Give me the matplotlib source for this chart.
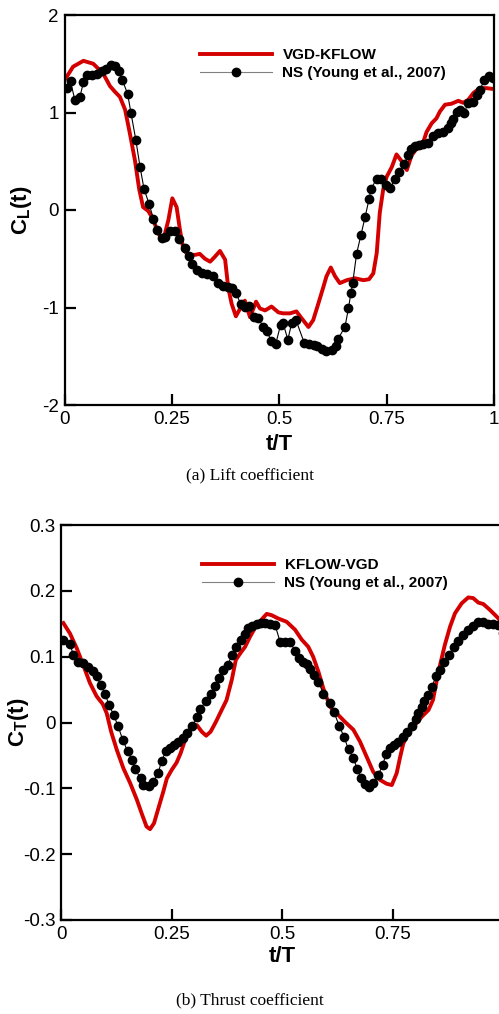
import matplotlib
matplotlib.use("Agg")
import matplotlib.pyplot as plt

plt.rcParams['font.family'] = ['Liberation Sans', 'DejaVu Sans']
plt.rcParams['mathtext.fontset'] = 'custom'
plt.rcParams['mathtext.rm'] = 'Liberation Sans'
plt.rcParams['mathtext.bf'] = 'Liberation Sans:bold'
plt.rcParams['mathtext.it'] = 'Liberation Sans:italic'

# ---------------- Lift coefficient data ----------------
lift_vgd_t = [0.0, 0.02, 0.044, 0.067, 0.09, 0.106, 0.118, 0.129, 0.141, 0.152, 0.164, 0.174,
              0.183, 0.195, 0.207, 0.218, 0.23, 0.242, 0.251, 0.261, 0.269, 0.277, 0.288, 0.304,
              0.315, 0.327, 0.339, 0.35, 0.362, 0.374, 0.381, 0.389, 0.399, 0.409, 0.42, 0.432,
              0.446, 0.455, 0.467, 0.482, 0.498, 0.509, 0.525, 0.54, 0.552, 0.568, 0.579, 0.591,
              0.602, 0.61, 0.62, 0.63, 0.641, 0.657, 0.676, 0.696, 0.709, 0.719, 0.727, 0.734,
              0.742, 0.75, 0.762, 0.773, 0.785, 0.797, 0.808, 0.82, 0.831, 0.843, 0.855, 0.866,
              0.874, 0.886, 0.901, 0.917, 0.928, 0.94, 0.952, 0.967, 0.983, 1.0]
lift_vgd_v = [1.33, 1.47, 1.53, 1.50, 1.40, 1.27, 1.21, 1.16, 1.03, 0.79, 0.51, 0.21,
              0.03, -0.01, -0.10, -0.24, -0.31, -0.10, 0.12, 0.03, -0.21, -0.41, -0.46, -0.46,
              -0.45, -0.50, -0.53, -0.48, -0.42, -0.51, -0.79, -0.96, -1.09, -1.01, -0.93, -1.10,
              -0.94, -1.01, -1.03, -0.99, -1.05, -1.06, -1.06, -1.04, -1.11, -1.20, -1.13, -0.96,
              -0.80, -0.68, -0.59, -0.68, -0.75, -0.72, -0.70, -0.72, -0.71, -0.65, -0.44, -0.03,
              0.21, 0.34, 0.44, 0.57, 0.50, 0.41, 0.56, 0.63, 0.64, 0.80, 0.89, 0.94,
              1.01, 1.08, 1.09, 1.12, 1.10, 1.13, 1.20, 1.25, 1.25, 1.24]

lift_ns_t = [0.005, 0.014, 0.024, 0.036, 0.044, 0.053, 0.063, 0.075, 0.087, 0.097, 0.108, 0.118,
             0.126, 0.135, 0.147, 0.155, 0.166, 0.176, 0.185, 0.197, 0.207, 0.216, 0.226, 0.235,
             0.246, 0.257, 0.267, 0.28, 0.29, 0.297, 0.308, 0.319, 0.331, 0.346, 0.358, 0.369,
             0.38, 0.391, 0.399, 0.41, 0.42, 0.43, 0.441, 0.451, 0.463, 0.471, 0.481, 0.492,
             0.503, 0.509, 0.52, 0.529, 0.539, 0.558, 0.57, 0.581, 0.589, 0.599, 0.609, 0.622,
             0.631, 0.637, 0.653, 0.661, 0.667, 0.671, 0.68, 0.69, 0.70, 0.709, 0.714, 0.727,
             0.738, 0.748, 0.759, 0.769, 0.779, 0.791, 0.799, 0.807, 0.816, 0.826, 0.835, 0.847,
             0.858, 0.87, 0.882, 0.892, 0.90, 0.905, 0.913, 0.921, 0.93, 0.94, 0.95, 0.96,
             0.967, 0.977, 0.989, 0.997]
lift_ns_v = [1.25, 1.32, 1.13, 1.16, 1.31, 1.38, 1.38, 1.40, 1.43, 1.45, 1.49, 1.48,
             1.43, 1.33, 1.19, 0.99, 0.72, 0.44, 0.22, 0.06, -0.09, -0.21, -0.29, -0.28,
             -0.22, -0.22, -0.30, -0.39, -0.47, -0.55, -0.62, -0.65, -0.66, -0.68, -0.75, -0.78,
             -0.79, -0.80, -0.85, -0.96, -0.99, -0.98, -1.10, -1.11, -1.20, -1.24, -1.34, -1.37,
             -1.18, -1.16, -1.33, -1.16, -1.13, -1.36, -1.37, -1.38, -1.39, -1.43, -1.45, -1.44,
             -1.40, -1.32, -1.20, -1.01, -0.85, -0.75, -0.45, -0.26, -0.07, 0.11, 0.22, 0.32,
             0.32, 0.26, 0.23, 0.32, 0.39, 0.47, 0.56, 0.63, 0.66, 0.67, 0.68, 0.69,
             0.76, 0.79, 0.80, 0.84, 0.89, 0.93, 1.01, 1.03, 0.99, 1.10, 1.11, 1.18,
             1.23, 1.33, 1.37, 1.35]

# ---------------- Thrust coefficient data ----------------
thrust_vgd_t = [0.005, 0.02, 0.035, 0.05, 0.065, 0.08, 0.094, 0.103, 0.113, 0.126, 0.141, 0.156,
                0.171, 0.182, 0.193, 0.201, 0.21, 0.22, 0.231, 0.239, 0.25, 0.261, 0.27, 0.28,
                0.291, 0.307, 0.318, 0.328, 0.338, 0.35, 0.363, 0.374, 0.386, 0.395, 0.405, 0.416,
                0.427, 0.442, 0.465, 0.476, 0.491, 0.51, 0.529, 0.544, 0.559, 0.57, 0.582, 0.593,
                0.608, 0.623, 0.642, 0.661, 0.676, 0.691, 0.706, 0.721, 0.736, 0.748, 0.759, 0.767,
                0.774, 0.785, 0.80, 0.816, 0.831, 0.841, 0.85, 0.857, 0.868, 0.88, 0.891, 0.906,
                0.921, 0.932, 0.944, 0.955, 0.97, 0.985, 1.0]
thrust_vgd_v = [0.151, 0.135, 0.113, 0.087, 0.060, 0.040, 0.028, 0.014, -0.014, -0.042, -0.070, -0.092,
                -0.117, -0.138, -0.158, -0.162, -0.153, -0.130, -0.105, -0.085, -0.072, -0.061, -0.047, -0.027,
                -0.012, -0.004, -0.014, -0.020, -0.014, 0.001, 0.019, 0.034, 0.065, 0.095, 0.105, 0.115,
                0.130, 0.148, 0.165, 0.163, 0.158, 0.153, 0.141, 0.126, 0.115, 0.100, 0.077, 0.052,
                0.024, 0.014, 0.001, -0.011, -0.029, -0.052, -0.075, -0.087, -0.093, -0.095, -0.077, -0.052,
                -0.032, -0.016, -0.004, 0.009, 0.019, 0.034, 0.065, 0.087, 0.118, 0.146, 0.166, 0.181,
                0.190, 0.189, 0.182, 0.180, 0.171, 0.161, 0.150]

thrust_ns_t = [0.005, 0.02, 0.027, 0.039, 0.05, 0.061, 0.071, 0.08, 0.089, 0.099, 0.108, 0.119,
               0.129, 0.139, 0.15, 0.16, 0.167, 0.18, 0.184, 0.199, 0.208, 0.22, 0.227, 0.237,
               0.246, 0.255, 0.265, 0.275, 0.284, 0.297, 0.307, 0.314, 0.327, 0.338, 0.348, 0.357,
               0.365, 0.377, 0.387, 0.395, 0.406, 0.416, 0.423, 0.432, 0.442, 0.452, 0.462, 0.472,
               0.484, 0.495, 0.506, 0.518, 0.529, 0.539, 0.548, 0.557, 0.563, 0.572, 0.582, 0.593,
               0.608, 0.617, 0.629, 0.64, 0.65, 0.661, 0.67, 0.678, 0.687, 0.697, 0.706, 0.717,
               0.727, 0.735, 0.744, 0.754, 0.763, 0.773, 0.782, 0.793, 0.802, 0.808, 0.816, 0.821,
               0.829, 0.838, 0.848, 0.857, 0.867, 0.877, 0.889, 0.898, 0.91, 0.92, 0.931, 0.942,
               0.955, 0.966, 0.976, 0.989, 1.0]
thrust_ns_v = [0.125, 0.120, 0.103, 0.092, 0.091, 0.085, 0.078, 0.070, 0.057, 0.044, 0.027, 0.011,
               -0.006, -0.026, -0.043, -0.057, -0.071, -0.085, -0.095, -0.096, -0.090, -0.076, -0.058, -0.044,
               -0.039, -0.034, -0.029, -0.024, -0.016, -0.005, 0.008, 0.020, 0.032, 0.044, 0.055, 0.067,
               0.079, 0.088, 0.103, 0.114, 0.126, 0.135, 0.143, 0.147, 0.150, 0.151, 0.151, 0.150,
               0.148, 0.123, 0.123, 0.123, 0.108, 0.098, 0.092, 0.089, 0.081, 0.072, 0.062, 0.044,
               0.030, 0.016, -0.005, -0.022, -0.041, -0.054, -0.071, -0.084, -0.093, -0.098, -0.092, -0.080,
               -0.065, -0.048, -0.039, -0.034, -0.029, -0.022, -0.015, -0.005, 0.005, 0.014, 0.024, 0.033,
               0.042, 0.054, 0.070, 0.080, 0.092, 0.103, 0.115, 0.124, 0.133, 0.141, 0.147, 0.152,
               0.152, 0.150, 0.150, 0.148, 0.136]

x_ticks = [0, 0.25, 0.5, 0.75, 1]
x_ticklabels = ["0", "0.25", "0.5", "0.75", "1"]
lift_yticks = [-2, -1, 0, 1, 2]
lift_yticklabels = ["-2", "-1", "0", "1", "2"]
thrust_yticks = [-0.3, -0.2, -0.1, 0, 0.1, 0.2, 0.3]
thrust_yticklabels = ["-0.3", "-0.2", "-0.1", "0", "0.1", "0.2", "0.3"]

RED = '#d40000'
W, H = 499, 1014
fig = plt.figure(figsize=(W / 100, H / 100), dpi=100)


def style_axes(ax):
    for s in ax.spines.values():
        s.set_linewidth(1.6)
    ax.tick_params(direction='in', length=8, width=1.6, labelsize=13.5, pad=4,
                   top=False, right=False)
    ax.set_xlabel('t/T', fontsize=16, fontweight='bold')


def add_legend(ax, x_px, y_px):
    leg = ax.legend(loc='upper left', bbox_to_anchor=(x_px / W, 1 - y_px / H),
                    bbox_transform=fig.transFigure, frameon=False,
                    prop={'weight': 'bold', 'size': 11}, handlelength=4.7,
                    handletextpad=0.7, labelspacing=0.28, borderpad=0,
                    borderaxespad=0)
    leg.get_lines()[1].set_color('#808080')
    return leg


ax1 = fig.add_axes([64.5 / W, 1 - 405 / H, 429.5 / W, 390 / H])
ax1.plot(lift_vgd_t, lift_vgd_v, color=RED, lw=2.8, label='VGD-KFLOW', zorder=2)
ax1.plot(lift_ns_t, lift_ns_v, color='black', lw=0.8, marker='o', ms=6,
         mfc='black', mec='black', label='NS (Young et al., 2007)', zorder=3)
ax1.set_xlim(0, 1)
ax1.set_ylim(-2, 2)
ax1.set_xticks(x_ticks)
ax1.set_xticklabels(x_ticklabels)
ax1.set_yticks(lift_yticks)
ax1.set_yticklabels(lift_yticklabels)
style_axes(ax1)
ax1.set_ylabel(r'$\mathbf{C_L(t)}$', fontsize=16)
ax1.yaxis.set_label_coords((34 - 64.5) / 429.5, 0.5)
ax1.xaxis.set_label_coords(0.5, (405 - 434) / 390)
add_legend(ax1, 200, 48)

ax2 = fig.add_axes([61.2 / W, 1 - 920 / H, 442 / W, 395 / H])
ax2.plot(thrust_vgd_t, thrust_vgd_v, color=RED, lw=2.8, label='KFLOW-VGD', zorder=2)
ax2.plot(thrust_ns_t, thrust_ns_v, color='black', lw=0.8, marker='o', ms=6,
         mfc='black', mec='black', label='NS (Young et al., 2007)', zorder=3)
ax2.set_xlim(0, 1)
ax2.set_ylim(-0.3, 0.3)
ax2.set_xticks(x_ticks)
ax2.set_xticklabels(x_ticklabels)
ax2.set_yticks(thrust_yticks)
ax2.set_yticklabels(thrust_yticklabels)
style_axes(ax2)
ax2.set_ylabel(r'$\mathbf{C_T(t)}$', fontsize=16)
ax2.yaxis.set_label_coords((31 - 61.2) / 442, 0.5)
ax2.xaxis.set_label_coords(0.5, (920 - 946) / 395)
add_legend(ax2, 202, 558)

fig.text(250 / W, 1 - 476 / H, '(a) Lift coefficient', ha='center', va='center',
         fontsize=12.5, family='Liberation Serif')
fig.text(250 / W, 1 - 1000 / H, '(b) Thrust coefficient', ha='center', va='center',
         fontsize=12.5, family='Liberation Serif')

fig.savefig('out.png', dpi=100)
